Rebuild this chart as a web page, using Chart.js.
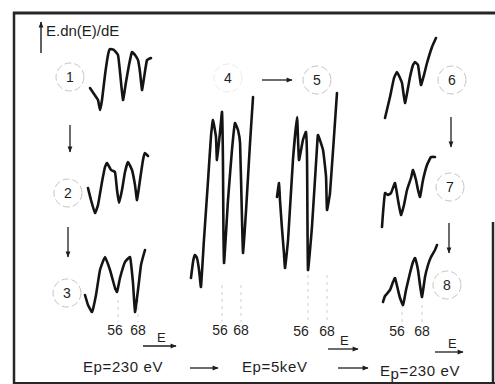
<!DOCTYPE html>
<html>
<head>
<meta charset="utf-8">
<script src="https://cdn.jsdelivr.net/npm/chart.js@4.4.0/dist/chart.umd.min.js"></script>
<style>
  html, body { margin: 0; padding: 0; background: #fff; }
  #page { position: relative; width: 495px; height: 384px; overflow: hidden; font-family: "Liberation Sans", Arial, sans-serif; }
  #page canvas { position: absolute; }
  #page svg { position: absolute; left: 0; top: 0; }
  svg text { font-family: "Liberation Sans", Arial, sans-serif; fill: #1e1e1e; }
</style>
</head>
<body>
<div id="page">
<svg id="deco" width="495" height="384">
  <defs>
    <marker id="ah" viewBox="0 0 10 10" refX="9" refY="5" markerWidth="7" markerHeight="6" orient="auto" markerUnits="userSpaceOnUse">
      <path d="M0,1 L10,5 L0,9 z" fill="#1e1e1e"/>
    </marker>
  </defs>
  <!-- frame -->
  <g stroke="#262626" fill="none">
    <line x1="13" y1="13" x2="495" y2="13" stroke-width="3"/>
    <line x1="14" y1="12" x2="14" y2="384" stroke-width="2.5"/>
    <line x1="14" y1="383" x2="495" y2="383" stroke-width="2"/>
    <line x1="493" y1="222" x2="493" y2="384" stroke-width="2.5"/>
  </g>
  <!-- y axis label -->
  <line x1="41" y1="53" x2="41" y2="22" stroke="#1e1e1e" stroke-width="1.4" marker-end="url(#ah)"/>
  <text x="46" y="36" font-size="15">E.dn(E)/dE</text>
  <!-- sequence arrows -->
  <g stroke="#1e1e1e" stroke-width="1.3" marker-end="url(#ah)">
    <line x1="70" y1="125" x2="70" y2="152"/>
    <line x1="68" y1="227" x2="68" y2="257"/>
    <line x1="451" y1="117" x2="451" y2="147"/>
    <line x1="449" y1="223" x2="449" y2="253"/>
    <line x1="262" y1="80" x2="292" y2="80"/>
    <line x1="143" y1="346" x2="176" y2="346"/>
    <line x1="328" y1="349" x2="358" y2="349"/>
    <line x1="435" y1="352" x2="463" y2="352"/>
    <line x1="190" y1="368" x2="218" y2="368"/>
    <line x1="338" y1="368" x2="368" y2="368"/>
  </g>
  <g id="circles" stroke="#c4c4c4" stroke-width="1" fill="none" stroke-dasharray="7 3"></g>
  <g id="labels"></g>
  <!-- energy axis labels -->
  <text x="157" y="342" font-size="13">E</text>
  <text x="340" y="345" font-size="13">E</text>
  <text x="448" y="348" font-size="13">E</text>
</svg>
</div>
<script>
// spectra: energy (eV) and E.dN(E)/dE (arbitrary units)
const energy1 = [39.2, 41.6, 44, 45.2, 46.4, 48.2, 50, 51.2, 53.6, 56, 57.2, 59, 60.8, 62.6, 64.4, 66.2, 68, 69.2, 70.4, 71.6, 73.4, 75.8];
const signal1 = [5.4, 4.2, 3, 1, 3, 8, 12, 13.2, 13, 12, 8.6, 3, 6.6, 10, 12.6, 12, 11, 8.6, 5, 7.4, 11, 11.4];

const energy2 = [38, 39.8, 42.2, 44, 46.4, 48.2, 49.4, 51.8, 54.2, 55.4, 56.6, 58.4, 60.2, 62, 64.4, 66.2, 67.4, 69.2, 71, 72.2, 74];
const signal2 = [6.4, 4, 1.4, 3, 7.6, 10.6, 11.4, 10, 9.6, 6, 3.4, 6, 9.6, 11.6, 10, 7, 4, 8, 12, 13.4, 12.8];

const energy3 = [36.2, 38, 40.4, 42.8, 45.2, 48.2, 51.2, 54.2, 55.4, 57.2, 60.2, 63.2, 65, 66.2, 68, 69.8, 71, 72.2];
const signal3 = [5, 3, 1.6, 5, 10, 12.6, 10, 6.4, 5.6, 8.4, 11.6, 12.6, 7.4, 1.6, 6, 11, 12.6, 14];

const energy4 = [36.4, 37.7, 38.9, 40.2, 41.5, 42.7, 44.6, 47.2, 49.1, 50.3, 52.2, 52.8, 54.7, 56, 56.6, 56.9, 57.3, 59.8, 62.3, 64.2, 66.1, 67.4, 68.6, 69.3, 71.2, 73.7, 75.6];
const signal4 = [3.4, 6.6, 8, 7.4, 5, 1.6, 11, 23, 32, 35, 31.6, 27, 32.4, 36.6, 27, 13, 6.4, 19, 29, 34.4, 33, 30.4, 15.6, 8.4, 17, 30.4, 39.6];

const energy5 = [36.4, 37.7, 38.3, 39.5, 40.8, 41.5, 43.4, 46.5, 49.1, 50.3, 52.8, 54.7, 55.4, 56, 58.5, 61.7, 62.3, 65.5, 67.4, 68, 69.9, 74.3];
const signal5 = [16.6, 19.4, 16, 10.6, 5.4, 2.4, 8, 24, 32.6, 24, 28, 29.6, 24, 2, 10.6, 26.6, 29, 26, 20.6, 14, 17.4, 37.4];

const energy6 = [45.8, 48.8, 51.2, 53, 54.8, 56, 57.8, 59.6, 60.8, 62.6, 63.8, 65.6, 67.4, 69.2, 71, 74, 76.4];
const signal6 = [1.4, 5.6, 9.4, 10.6, 9.4, 8.4, 4.4, 7.4, 9.6, 12, 12.6, 12, 8, 10, 12.4, 15.6, 17.4];

const energy7 = [44, 44.6, 45.8, 47.6, 49.4, 51.8, 53.6, 55.4, 57.2, 59, 61.4, 62.6, 64.4, 65.6, 66.8, 68.6, 71, 73.4, 75.8];
const signal7 = [1.6, 4.4, 8.4, 8, 8.4, 10.4, 7, 4, 6, 9, 11.4, 13, 11, 9, 7.6, 11, 14, 15.6, 15.6];

const energy8 = [44.6, 45.8, 48.8, 50.6, 51.8, 53.6, 54.8, 56.6, 58.4, 60.8, 62.6, 63.8, 65.6, 66.8, 68, 69.8, 71.6, 73.4, 75.8, 77];
const signal8 = [2.6, 3.8, 5, 6.6, 7.4, 5, 3.4, 2, 5, 8.4, 10.6, 11.4, 9, 6, 3.6, 7.6, 10, 11.6, 13, 14];

const spectrumLabels = ["1", "2", "3", "4", "5", "6", "7", "8"];
const peakEnergies = [56, 68];
const peakLabels = ["56", "68"];
const beamLabels = ["Ep=230 eV", "Ep=5keV", "Ep=230 eV"];

const energies = [energy1, energy2, energy3, energy4, energy5, energy6, energy7, energy8];
const signals = [signal1, signal2, signal3, signal4, signal5, signal6, signal7, signal8];

// placement of each small panel on the page
const EMIN = 34, EMAX = 80, UNIT = 5;
const panels = [
  { x56: 118, k: 20 / 12, bottom: 115, ymax: 15, label: [70, 77] },
  { x56: 118, k: 20 / 12, bottom: 220, ymax: 15, label: [68, 193] },
  { x56: 118, k: 20 / 12, bottom: 320, ymax: 15, label: [67, 293] },
  { x56: 222, k: 19 / 12, bottom: 295, ymax: 42, label: [228, 78] },
  { x56: 308, k: 19 / 12, bottom: 280, ymax: 40, label: [317, 80] },
  { x56: 402, k: 20 / 12, bottom: 125, ymax: 19, label: [452, 80] },
  { x56: 402, k: 20 / 12, bottom: 235, ymax: 17, label: [450, 187] },
  { x56: 402, k: 20 / 12, bottom: 315, ymax: 15, label: [447, 285] }
];

const page = document.getElementById('page');
const NS = 'http://www.w3.org/2000/svg';

function svgEl(parent, tag, attrs, text) {
  const el = document.createElementNS(NS, tag);
  for (const a in attrs) el.setAttribute(a, attrs[a]);
  if (text !== undefined) el.textContent = text;
  parent.appendChild(el);
  return el;
}

// one small chart per spectrum
panels.forEach((p, i) => {
  const left = Math.round(p.x56 - (56 - EMIN) * p.k);
  const width = Math.round((EMAX - EMIN) * p.k);
  const height = p.ymax * UNIT;
  const top = p.bottom - height;
  const xmin = 56 - (p.x56 - left) / p.k;
  const xmax = xmin + width / p.k;

  const canvas = document.createElement('canvas');
  canvas.width = width;
  canvas.height = height;
  canvas.style.left = left + 'px';
  canvas.style.top = top + 'px';
  page.appendChild(canvas);

  new Chart(canvas.getContext('2d'), {
    type: 'line',
    data: {
      datasets: [{
        data: energies[i].map((e, j) => ({ x: e, y: signals[i][j] })),
        borderColor: '#141414',
        borderWidth: 2.6,
        borderJoinStyle: 'round',
        borderCapStyle: 'round',
        pointRadius: 0,
        tension: 0.12,
        fill: false,
        clip: false
      }]
    },
    options: {
      responsive: false,
      animation: false,
      events: [],
      layout: { padding: 0 },
      plugins: { legend: { display: false }, tooltip: { enabled: false } },
      scales: {
        x: { type: 'linear', display: false, min: xmin, max: xmax },
        y: { type: 'linear', display: false, min: 0, max: p.ymax }
      }
    }
  });

  // circled spectrum number
  const circles = document.getElementById('circles');
  svgEl(circles, 'circle', { cx: p.label[0], cy: p.label[1], r: 14, 'stroke-opacity': i === 3 ? 0.35 : 1 });
  svgEl(document.getElementById('labels'), 'text',
    { x: p.label[0], y: p.label[1] + 5, 'font-size': 14, 'text-anchor': 'middle' }, spectrumLabels[i]);
});

// faint markers and peak energy labels under each column
const labels = document.getElementById('labels');
const columns = [
  { x56: 118, k: 20 / 12, from: 300, base: 335, shift: [-3, 0] },
  { x56: 222, k: 19 / 12, from: 285, base: 335, shift: [-2, 0] },
  { x56: 308, k: 19 / 12, from: 275, base: 336, shift: [-7, 0] },
  { x56: 402, k: 20 / 12, from: 305, base: 336, shift: [-5, 0] }
];
columns.forEach(c => {
  peakEnergies.forEach((e, j) => {
    const x = c.x56 + (e - 56) * c.k;
    svgEl(labels, 'line', { x1: x, y1: c.from, x2: x, y2: c.base - 13, stroke: '#cfcfcf', 'stroke-width': 1, 'stroke-dasharray': '3 4' });
    svgEl(labels, 'text', { x: x + c.shift[j], y: c.base, 'font-size': 14, 'text-anchor': 'middle' }, peakLabels[j]);
  });
});

// beam energies
const beamPos = [[83, 372], [242, 372], [380, 376]];
beamLabels.forEach((t, i) => {
  const el = svgEl(labels, 'text', { x: beamPos[i][0], y: beamPos[i][1], 'font-size': 15, 'letter-spacing': 0.6 });
  svgEl(el, 'tspan', {}, t.charAt(0));
  svgEl(el, 'tspan', { dy: i === 2 ? 3 : 0 }, t.charAt(1));
  svgEl(el, 'tspan', { dy: i === 2 ? -3 : 0 }, t.slice(2));
});
</script>
</body>
</html>
